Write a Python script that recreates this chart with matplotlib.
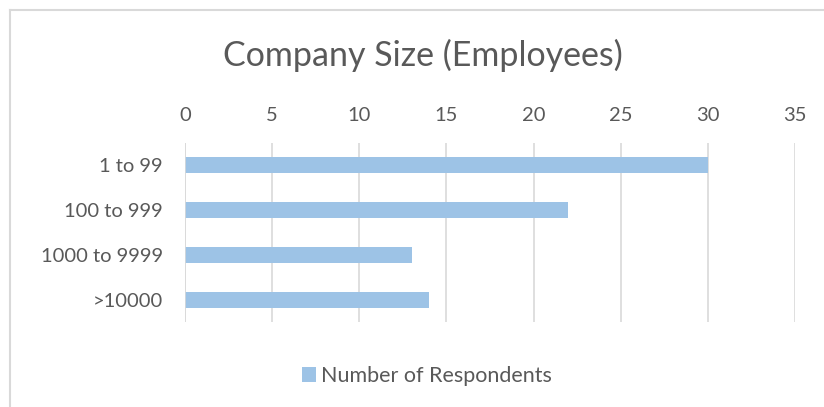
import matplotlib.pyplot as plt
from matplotlib.lines import Line2D

categories = ['1 to 99', '100 to 999', '1000 to 9999', '>10000']
respondents = [30, 22, 13, 14]
x_ticks = [0, 5, 10, 15, 20, 25, 30, 35]

BAR_COLOR = '#9dc3e6'
TEXT_COLOR = '#595959'
GRID_COLOR = '#d9d9d9'

plt.rcParams['font.family'] = ['Lato', 'DejaVu Sans']

fig = plt.figure(figsize=(8.24, 4.07), dpi=100)
# plot area in pixels: x 185..795, y 143..322 (from top)
ax = fig.add_axes([185 / 824, 1 - 322 / 407, 610 / 824, 179 / 407])

ypos = list(range(len(categories)))
ax.barh(ypos, respondents, height=0.36, color=BAR_COLOR, label='Number of Respondents', zorder=3)

ax.set_xlim(0, 35)
ax.set_ylim(len(categories) - 0.5, -0.5)
ax.set_xticks(x_ticks)
ax.set_yticks(ypos)
ax.set_yticklabels(categories)
ax.xaxis.tick_top()
ax.tick_params(axis='x', length=0, pad=14, labelsize=14.5, colors=TEXT_COLOR)
ax.tick_params(axis='y', length=0, pad=16, labelsize=14.5, colors=TEXT_COLOR)
ax.grid(axis='x', color=GRID_COLOR, linewidth=1.2, zorder=0)
for s in ax.spines.values():
    s.set_visible(False)
ax.axvline(0, color=GRID_COLOR, linewidth=1.2, zorder=4)

fig.text(423 / 824, 1 - 55 / 407, 'Company Size (Employees)', ha='center', va='center',
         fontsize=24.5, color=TEXT_COLOR)

handles, labels = ax.get_legend_handles_labels()
fig.legend(handles, labels, loc='center', bbox_to_anchor=(427 / 824, 1 - 376 / 407),
           frameon=False, fontsize=15.5, labelcolor=TEXT_COLOR, handlelength=0.65,
           handleheight=0.65, handletextpad=0.25)

# chart frame (only left and top edges visible)
fig.add_artist(Line2D([10 / 824, 10 / 824], [0, 1 - 10 / 407], transform=fig.transFigure,
                      color=GRID_COLOR, linewidth=1.5))
fig.add_artist(Line2D([10 / 824, 1], [1 - 10 / 407, 1 - 10 / 407], transform=fig.transFigure,
                      color=GRID_COLOR, linewidth=1.5))

fig.savefig('out.png', dpi=100)
